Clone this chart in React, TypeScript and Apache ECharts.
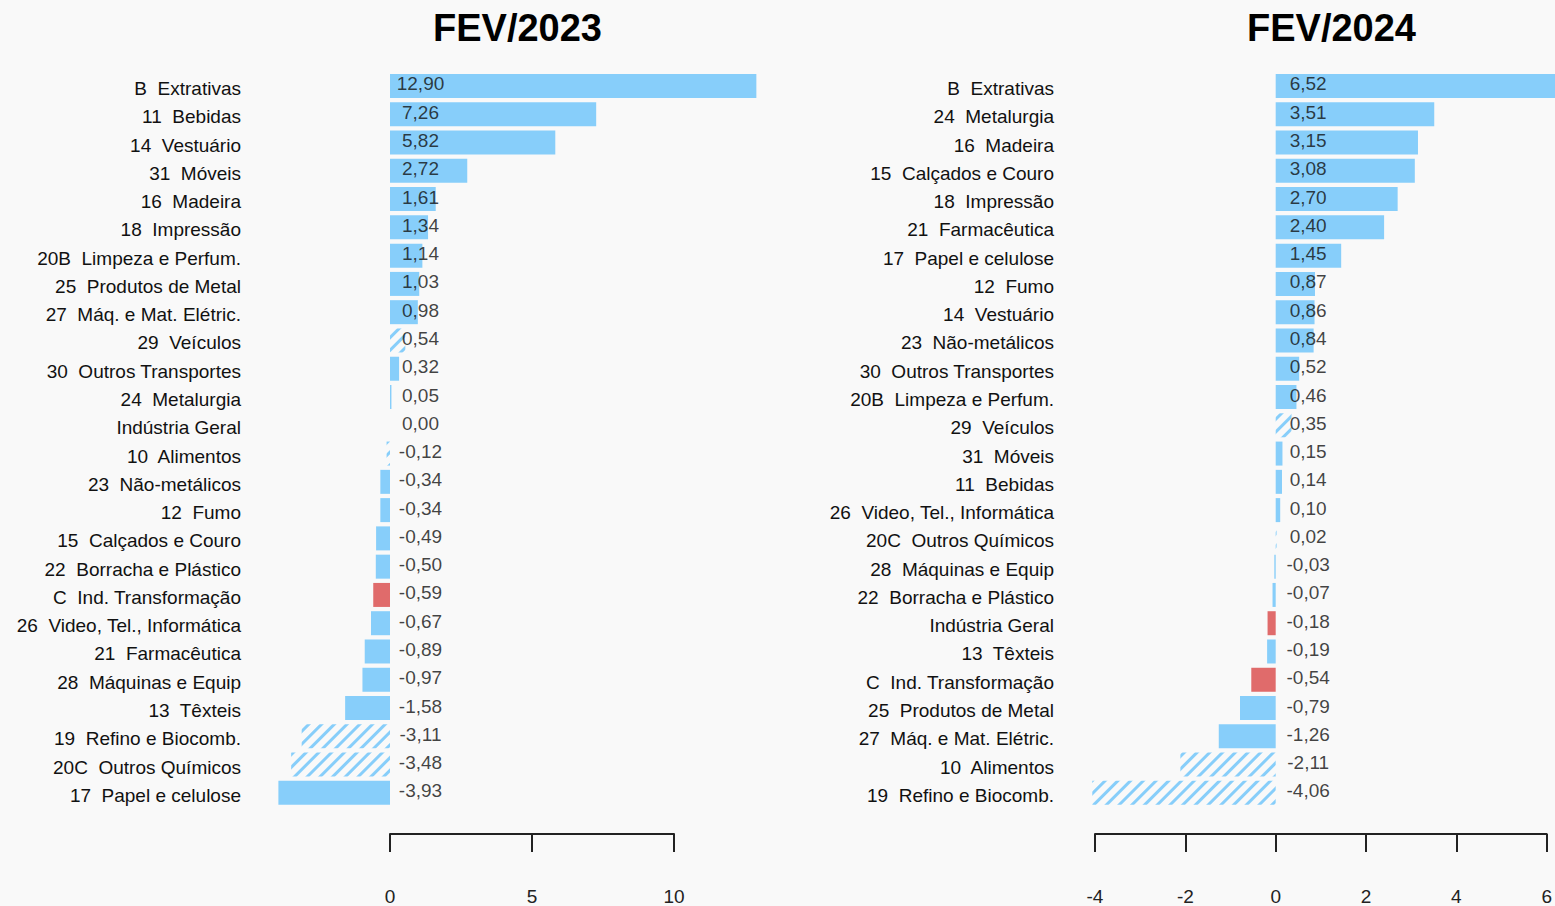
import React, { useEffect, useRef } from 'react';
import * as echarts from 'echarts';

const categories2023 = [
  'B  Extrativas', '11  Bebidas', '14  Vestuário', '31  Móveis', '16  Madeira', '18  Impressão',
  '20B  Limpeza e Perfum.', '25  Produtos de Metal', '27  Máq. e Mat. Elétric.', '29  Veículos',
  '30  Outros Transportes', '24  Metalurgia', 'Indústria Geral', '10  Alimentos', '23  Não-metálicos',
  '12  Fumo', '15  Calçados e Couro', '22  Borracha e Plástico', 'C  Ind. Transformação',
  '26  Video, Tel., Informática', '21  Farmacêutica', '28  Máquinas e Equip', '13  Têxteis',
  '19  Refino e Biocomb.', '20C  Outros Químicos', '17  Papel e celulose',
];
const values2023 = [
  12.90, 7.26, 5.82, 2.72, 1.61, 1.34, 1.14, 1.03, 0.98, 0.54, 0.32, 0.05, 0.00, -0.12, -0.34,
  -0.34, -0.49, -0.50, -0.59, -0.67, -0.89, -0.97, -1.58, -3.11, -3.48, -3.93,
];

const categories2024 = [
  'B  Extrativas', '24  Metalurgia', '16  Madeira', '15  Calçados e Couro', '18  Impressão',
  '21  Farmacêutica', '17  Papel e celulose', '12  Fumo', '14  Vestuário', '23  Não-metálicos',
  '30  Outros Transportes', '20B  Limpeza e Perfum.', '29  Veículos', '31  Móveis', '11  Bebidas',
  '26  Video, Tel., Informática', '20C  Outros Químicos', '28  Máquinas e Equip',
  '22  Borracha e Plástico', 'Indústria Geral', '13  Têxteis', 'C  Ind. Transformação',
  '25  Produtos de Metal', '27  Máq. e Mat. Elétric.', '10  Alimentos', '19  Refino e Biocomb.',
];
const values2024 = [
  6.52, 3.51, 3.15, 3.08, 2.70, 2.40, 1.45, 0.87, 0.86, 0.84, 0.52, 0.46, 0.35, 0.15, 0.14,
  0.10, 0.02, -0.03, -0.07, -0.18, -0.19, -0.54, -0.79, -1.26, -2.11, -4.06,
];

const hatchedCategories = ['29  Veículos', '10  Alimentos', '19  Refino e Biocomb.', '20C  Outros Químicos'];
const redCategories = ['C  Ind. Transformação', 'Indústria Geral'];

const titles = ['FEV/2023', 'FEV/2024'];

const BLUE = '#87CEFA';
const RED = '#E06B6B';
const BG = '#F9F9F9';
const FONT = 'Liberation Sans, Arial, sans-serif';
const TEXT = '#111111';

const GRID_TOP = 71.85;
const GRID_HEIGHT = 735.8;

function fmt(v: number) {
  return v.toFixed(2).replace('.', ',');
}

function barData(cats: string[], vals: number[]) {
  return vals.map((v, i) => {
    const c = cats[i];
    if (hatchedCategories.includes(c)) {
      return {
        value: v,
        itemStyle: {
          color: 'rgba(0,0,0,0)',
          decal: {
            symbol: 'rect',
            symbolSize: 1,
            color: BLUE,
            backgroundColor: null,
            dashArrayX: [20, 0],
            dashArrayY: [2.5, 5.5],
            rotation: -Math.PI / 4,
          },
        },
      };
    }
    if (redCategories.includes(c)) {
      return { value: v, itemStyle: { color: RED } };
    }
    return { value: v };
  });
}

function labelData(vals: number[]) {
  return vals.map((v, i) => [0, i, v]);
}

export default function App() {
  const ref = useRef<HTMLDivElement>(null);

  useEffect(() => {
    if (!ref.current) return;
    const chart = echarts.init(ref.current, undefined, { renderer: 'svg' });

    const panels = [
      { cats: categories2023, vals: values2023, left: 390, width: 284, min: 0, max: 10, interval: 5, labelMargin: 149, labelOffset: 30.5, titleX: 517.5 },
      { cats: categories2024, vals: values2024, left: 1095, width: 452, min: -4, max: 6, interval: 2, labelMargin: 41, labelOffset: 32.5, titleX: 1331.5 },
    ];

    const option: any = {
      animation: false,
      backgroundColor: BG,
      grid: panels.map((p) => ({ left: p.left, width: p.width, top: GRID_TOP, height: GRID_HEIGHT })),
      xAxis: panels.map((p, i) => ({
        gridIndex: i,
        type: 'value',
        min: p.min,
        max: p.max,
        interval: p.interval,
        position: 'bottom',
        offset: 27,
        axisLine: { show: true, lineStyle: { color: '#222', width: 2 } },
        axisTick: { show: true, length: 18, lineStyle: { color: '#222', width: 2 } },
        axisLabel: { fontSize: 19, margin: 53, color: '#222', fontFamily: FONT },
        splitLine: { show: false },
      })),
      yAxis: panels.map((p, i) => ({
        gridIndex: i,
        type: 'category',
        inverse: true,
        data: p.cats,
        axisLine: { show: false },
        axisTick: { show: false },
        axisLabel: {
          interval: 0,
          fontSize: 19,
          color: TEXT,
          fontFamily: FONT,
          margin: p.labelMargin,
          formatter: (v: string) => `{a|${v}}`,
          rich: {
            a: { fontSize: 19, color: TEXT, fontFamily: FONT, padding: [5, 0, 0, 0] },
          },
        },
        splitLine: { show: false },
      })),
      series: panels.flatMap((p, i) => [
        {
          type: 'bar',
          xAxisIndex: i,
          yAxisIndex: i,
          data: barData(p.cats, p.vals),
          barWidth: 24,
          clip: false,
          silent: true,
          itemStyle: { color: BLUE },
        },
        {
          type: 'scatter',
          xAxisIndex: i,
          yAxisIndex: i,
          data: labelData(p.vals),
          symbolSize: 0,
          clip: false,
          silent: true,
          encode: { x: 0, y: 1 },
          label: {
            show: true,
            position: 'inside',
            offset: [p.labelOffset, -2],
            fontSize: 19,
            color: TEXT,
            fontFamily: FONT,
            formatter: (d: any) => fmt(d.value[2]),
          },
        },
      ]),
      graphic: panels.map((p, i) => ({
        type: 'text',
        x: p.titleX,
        y: 28,
        style: {
          text: titles[i],
          textAlign: 'center',
          textVerticalAlign: 'middle',
          font: `bold 38px ${FONT}`,
          fill: '#000',
        },
      })),
    };

    chart.setOption(option);
    return () => chart.dispose();
  }, []);

  return <div ref={ref} style={{ position: 'fixed', left: 0, top: 0, width: 1555, height: 906 }} />;
}
